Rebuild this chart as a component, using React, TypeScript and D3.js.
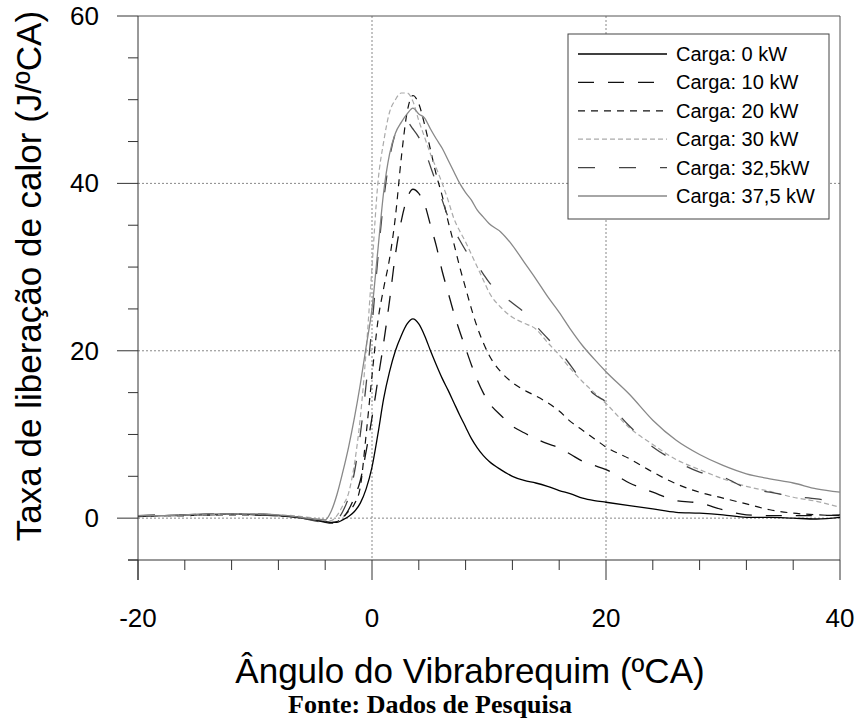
import React from "react";
import * as d3 from "d3";

// Crank angle (ºCA) sample positions shared by every load curve
const angles = [
  -20, -18, -16, -14, -12, -10, -8, -6, -5, -4, -3.5, -3, -2.5, -2, -1.5, -1, -0.5, 0, 0.5, 1, 1.5, 2,
  2.5, 3, 3.5, 4, 4.5, 5, 5.5, 6, 6.5, 7, 7.5, 8, 8.5, 9, 9.5, 10, 11, 12, 13, 14, 15, 16, 17, 18, 19,
  20, 22, 24, 26, 28, 30, 32, 34, 36, 38, 40,
];

// Heat release rate (J/ºCA) for each engine load
const carga0 = [
  0.2, 0.3, 0.4, 0.4, 0.5, 0.4, 0.3, 0.0, -0.2, -0.4, -0.5, -0.5, -0.2, 0.2, 0.8, 1.8, 3.5, 6.1, 10, 14.3,
  17.5, 20, 21.8, 23.2, 23.8, 23.2, 21.8, 20, 18.3, 16.7, 15.3, 13.8, 12.3, 10.9, 9.5, 8.4, 7.5, 6.8, 5.8,
  5.0, 4.5, 4.2, 3.8, 3.3, 2.9, 2.4, 2.1, 1.9, 1.5, 1.1, 0.7, 0.6, 0.4, 0.1, 0.1, 0.0, -0.1, 0.1,
];
const carga10 = [
  0.3, 0.3, 0.3, 0.5, 0.5, 0.5, 0.3, 0.1, -0.2, -0.5, -0.6, -0.5, 0.0, 1.0, 2.5, 4.5, 8, 12, 16.5, 21,
  26, 31.5, 35.5, 38.2, 39.3, 38.8, 37.5, 35, 32.5, 29.5, 27, 24.5, 22.3, 20.3, 18.3, 16.5, 15, 13.8, 12.3,
  11, 10.2, 9.5, 8.9, 8.4, 7.6, 6.8, 6.3, 5.8, 4.2, 3.1, 2.1, 1.8, 1.0, 0.4, 0.3, 0.3, 0.3, 0.4,
];
const carga20 = [
  0.2, 0.3, 0.3, 0.4, 0.4, 0.4, 0.3, 0.1, -0.1, -0.4, -0.5, -0.4, 0.1, 0.8, 1.7, 3.7, 10, 17, 23.5, 27.5,
  31, 36, 43, 48.5, 50.5, 49.5, 47, 44, 41, 38.5, 35.5, 32.8, 30, 27.5, 25, 22.8, 21, 19.5, 17.5, 16.2,
  15.3, 14.6, 13.8, 12.8, 11.5, 10.5, 9.5, 8.5, 7.1, 5.5, 4.1, 3.1, 2.4, 1.7, 1.0, 0.6, 0.4, 0.3,
];
const carga30 = [
  0.3, 0.3, 0.4, 0.4, 0.5, 0.5, 0.4, 0.2, 0.0, -0.3, -0.3, 0.3, 1.5, 3, 6.5, 12, 20, 30, 40, 45, 48.5,
  50, 50.8, 50.8, 49.8, 47.5, 45.5, 43.5, 41.8, 40, 38, 35.8, 34.3, 33, 31.5, 30, 28.5, 27, 25.2, 24,
  23.3, 22.6, 21, 19.5, 17.8, 16.3, 15, 13.7, 10.8, 8.8, 7.0, 5.8, 4.7, 3.8, 3.2, 2.5, 2.0, 1.3,
];
const carga32 = [
  0.3, 0.4, 0.4, 0.5, 0.5, 0.4, 0.3, 0.0, -0.3, -0.5, -0.5, -0.2, 0.8, 2.5, 5.5, 10, 16, 23, 31, 38, 43,
  46, 47.3, 47.3, 46.5, 45.5, 44, 42, 40, 38, 36, 34.5, 33.2, 32, 31, 30.2, 29.2, 28.2, 26.8, 25.7, 24.6,
  23, 21.5, 20, 18.2, 16.3, 14.8, 13.9, 11, 8.5, 6.8, 5.5, 4.9, 3.6, 3.1, 2.6, 2.3, 1.8,
];
const carga37 = [
  0.3, 0.3, 0.4, 0.5, 0.5, 0.5, 0.4, 0.1, -0.1, -0.2, 0.8, 2.8, 5.5, 8.5, 12, 16, 20.5, 25, 32, 39, 43.5,
  46, 47.3, 48.3, 49, 48.3, 47.8, 46.5, 45.3, 44.2, 42.8, 41.4, 40, 38.9, 38, 36.8, 36, 35.2, 34.2, 32.6,
  30.6, 28.6, 26.5, 24.6, 22.5, 20.6, 19, 17.5, 14.8, 11.7, 9.3, 7.6, 6.3, 5.3, 4.7, 4.2, 3.5, 3.1,
];

const seriesLabels = [
  "Carga: 0 kW",
  "Carga: 10 kW",
  "Carga: 20 kW",
  "Carga: 30 kW",
  "Carga: 32,5kW",
  "Carga: 37,5 kW",
];
const seriesValues = [carga0, carga10, carga20, carga30, carga32, carga37];

const xMajorTicks = [-20, 0, 20, 40];
const xMinorTicks = [-16, -12, -8, -4, 4, 8, 12, 16, 24, 28, 32, 36];
const yMajorTicks = [0, 20, 40, 60];
const yMinorTicks = [-5, 5, 10, 15, 25, 30, 35, 45, 50, 55];
const xGrid = [0, 20];
const yGrid = [0, 20, 40];

const xTitle = "Ângulo do Vibrabrequim (ºCA)";
const yTitle = "Taxa de liberação de calor (J/ºCA)";
const sourceNote = "Fonte: Dados de Pesquisa";

// Line styles, one per load
const styles = [
  { stroke: "#000", dash: "none", width: 1.3 },
  { stroke: "#111", dash: "16,14", width: 1.3 },
  { stroke: "#111", dash: "7,6", width: 1.2 },
  { stroke: "#aaa", dash: "5,3", width: 1.2 },
  { stroke: "#444", dash: "17,24", width: 1.3 },
  { stroke: "#888", dash: "none", width: 1.3 },
];

const W = 858;
const H = 722;
const left = 138;
const right = 840;
const top = 16;
const bottom = 560;

export default function App() {
  const x = d3.scaleLinear().domain([-20, 40]).range([left, right]);
  const y = d3.scaleLinear().domain([-5, 60]).range([bottom, top]);

  const line = d3
    .line<number>()
    .x((_, i) => x(angles[i]))
    .y((v) => y(v))
    .curve(d3.curveMonotoneX);

  const axisColor = "#333";
  const font = "'Liberation Sans', Arial, sans-serif";

  const legendX = 568;
  const legendY = 34;
  const legendW = 261;
  const legendH = 185;
  const rowStep = 28.4;

  return (
    <svg
      width={W}
      height={H}
      style={{ position: "absolute", left: 0, top: 0, background: "#fff" }}
      viewBox={`0 0 ${W} ${H}`}
    >
      <rect x={0} y={0} width={W} height={H} fill="#fff" />

      {/* dotted grid */}
      {xGrid.map((g) => (
        <line
          key={"gx" + g}
          x1={x(g)}
          x2={x(g)}
          y1={top}
          y2={bottom}
          stroke="#888"
          strokeWidth={1}
          strokeDasharray="2,2"
        />
      ))}
      {yGrid.map((g) => (
        <line
          key={"gy" + g}
          x1={left}
          x2={right}
          y1={y(g)}
          y2={y(g)}
          stroke="#888"
          strokeWidth={1}
          strokeDasharray="2,2"
        />
      ))}

      {/* frame */}
      <line x1={left} x2={right} y1={top} y2={top} stroke="#555" strokeWidth={1} />
      <line x1={right} x2={right} y1={top} y2={bottom} stroke="#555" strokeWidth={1} />

      {/* curves */}
      {seriesValues.map((vals, i) => (
        <path
          key={"s" + i}
          d={line(vals) || ""}
          fill="none"
          stroke={styles[i].stroke}
          strokeWidth={styles[i].width}
          strokeDasharray={styles[i].dash}
        />
      ))}

      {/* axes */}
      <line x1={left} x2={left} y1={top} y2={bottom + 20} stroke={axisColor} strokeWidth={1} />
      <line x1={left - 10} x2={right} y1={bottom} y2={bottom} stroke={axisColor} strokeWidth={1} />
      {xMajorTicks.map((t) => (
        <g key={"xt" + t}>
          <line x1={x(t)} x2={x(t)} y1={bottom} y2={bottom + 20} stroke={axisColor} strokeWidth={1} />
          <text x={x(t)} y={627} fontFamily={font} fontSize={26} textAnchor="middle" fill="#000">
            {t}
          </text>
        </g>
      ))}
      {xMinorTicks.map((t) => (
        <line key={"xm" + t} x1={x(t)} x2={x(t)} y1={bottom} y2={bottom + 10} stroke={axisColor} strokeWidth={1} />
      ))}
      {yMajorTicks.map((t) => (
        <g key={"yt" + t}>
          <line x1={left - 21} x2={left} y1={y(t)} y2={y(t)} stroke={axisColor} strokeWidth={1} />
          <text x={99} y={y(t) + 9} fontFamily={font} fontSize={26} textAnchor="end" fill="#000">
            {t}
          </text>
        </g>
      ))}
      {yMinorTicks.map((t) => (
        <line key={"ym" + t} x1={left - 10} x2={left} y1={y(t)} y2={y(t)} stroke={axisColor} strokeWidth={1} />
      ))}

      {/* axis titles */}
      <text x={470} y={683} fontFamily={font} fontSize={35} textAnchor="middle" fill="#000">
        {xTitle}
      </text>
      <text
        transform={`translate(41, 276) rotate(-90)`}
        fontFamily={font}
        fontSize={35}
        textAnchor="middle"
        fill="#000"
      >
        {yTitle}
      </text>
      <text
        x={430}
        y={713}
        fontFamily="'Liberation Serif', 'Times New Roman', serif"
        fontWeight="bold"
        fontSize={26}
        textAnchor="middle"
        fill="#000"
      >
        {sourceNote}
      </text>

      {/* legend */}
      <rect x={legendX} y={legendY} width={legendW} height={legendH} fill="#fff" stroke="#444" strokeWidth={1} />
      {seriesLabels.map((label, i) => {
        const cy = legendY + 20 + i * rowStep;
        return (
          <g key={"lg" + i}>
            <line
              x1={578}
              x2={667}
              y1={cy}
              y2={cy}
              stroke={styles[i].stroke}
              strokeWidth={styles[i].width}
              strokeDasharray={styles[i].dash}
            />
            <text x={676} y={cy + 7} fontFamily={font} fontSize={20} fill="#000">
              {label}
            </text>
          </g>
        );
      })}
    </svg>
  );
}
